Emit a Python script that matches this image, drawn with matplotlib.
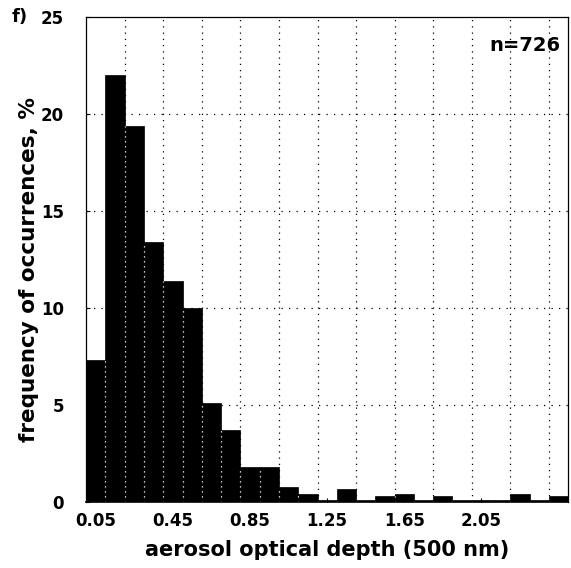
import numpy as np
import matplotlib
matplotlib.use("Agg")
import matplotlib.pyplot as plt

# histogram of aerosol optical depth, bins of 0.1 starting at 0
bin_width = 0.1
freq = [7.3, 22.0, 19.4, 13.4, 11.4, 10.0, 5.1, 3.7, 1.8, 1.8,
        0.8, 0.4, 0.1, 0.7, 0.1, 0.3, 0.4, 0.1, 0.3, 0.1,
        0.1, 0.1, 0.4, 0.1, 0.3]
xtick_vals = [0.05, 0.45, 0.85, 1.25, 1.65, 2.05]
xtick_labels = ["0.05", "0.45", "0.85", "1.25", "1.65", "2.05"]
ytick_vals = [0, 5, 10, 15, 20, 25]

plt.rcParams['font.family'] = ['DejaVu Sans']
plt.rcParams['font.weight'] = 'bold'

fig = plt.figure(figsize=(5.71, 5.68), dpi=100)
ax = fig.add_axes([0.151, 0.116, 0.844, 0.854])

left = np.arange(len(freq)) * bin_width
ax.bar(left, freq, width=bin_width, align='edge', color='black',
       edgecolor='black', linewidth=0.5, zorder=1)

# dotted grid every 0.2 / 5 %
for gx in np.arange(0.2, 2.5, 0.2):
    ax.axvline(gx, color='black', ls=(0, (1, 4)), lw=0.9, zorder=0)
for gy in [5, 10, 15, 20]:
    ax.axhline(gy, color='black', ls=(0, (1, 5)), lw=0.9, zorder=0)

# white dotted separators between adjacent bars
f = np.array(freq)
edges = left[1:]
tops = np.minimum(f[:-1], f[1:])
ax.vlines(edges, 0, tops, colors='white', linestyles=(0, (1, 3)), lw=0.9, zorder=2)

ax.set_xlim(0, 2.5)
ax.set_ylim(0, 25)
ax.set_xticks(xtick_vals)
ax.set_xticklabels(xtick_labels)
ax.set_yticks(ytick_vals)
ax.tick_params(axis='both', direction='in', length=3, labelsize=12, width=0.8)
ax.tick_params(axis='x', pad=7)
ax.tick_params(axis='y', pad=16)

for s in ['top', 'right', 'left']:
    ax.spines[s].set_linestyle((0, (2, 1)))
    ax.spines[s].set_linewidth(0.9)
ax.spines['bottom'].set_linewidth(1.2)

ax.set_xlabel("aerosol optical depth (500 nm)", fontsize=15, fontweight='bold', labelpad=7)
ax.set_ylabel("frequency of occurrences, %", fontsize=15.5, fontweight='bold')
ax.yaxis.set_label_coords(-0.098, 0.48)

ax.text(0.985, 0.96, "n=726", transform=ax.transAxes, ha='right', va='top',
        fontsize=14, fontweight='bold')
fig.text(0.02, 0.97, "f)", ha='left', va='center', fontsize=13, fontweight='bold')

fig.savefig("out.png", dpi=100)
